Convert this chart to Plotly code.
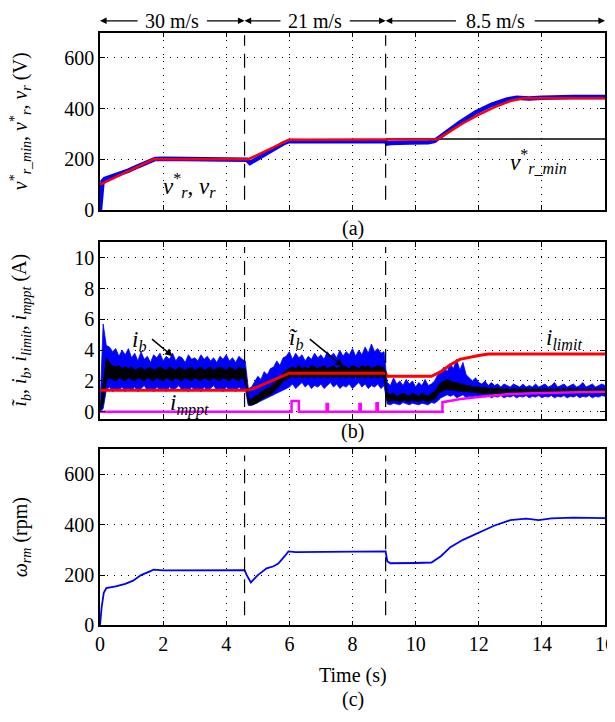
import numpy as np
import plotly.graph_objects as go

# ---------------- data ----------------
segments = ["30 m/s", "21 m/s", "8.5 m/s"]
seg_bounds = [0.0, 4.58, 9.05, 16.0]

# (a) voltages
vr_t = [0, 0.03, 0.08, 0.15, 0.3, 0.6, 0.9, 1.2, 1.5, 1.75, 2.0, 3.0, 4.0, 4.58, 4.65, 4.75, 4.9, 5.2, 5.5, 5.8,
        6.0, 6.5, 7.5, 8.5, 9.05, 9.1, 9.2, 9.8, 10.4, 10.6, 10.9, 11.4, 11.9, 12.4, 12.9, 13.2, 13.6, 14.0, 15.0, 16.0]
vr_v = [0, 60, 112, 122, 128, 140, 155, 172, 190, 201, 202, 201, 202, 201, 198, 185, 197, 218, 240, 262,
        272, 271, 271, 272, 271, 262, 264, 266, 267, 272, 300, 345, 385, 415, 436, 443, 440, 443, 446, 446]
vs_t = [0, 1.7, 4.58, 4.7, 6.0, 10.7, 11.0, 11.5, 12.0, 12.5, 13.0, 13.4, 16.0]
vs_v = [100, 200, 200, 200, 277, 279, 303, 342, 376, 406, 430, 441, 441]
vmin_t = [9.05, 16.0]
vmin_v = [280, 280]

# (b) currents, sampled every 0.1 s
env_t = np.round(np.arange(0, 161) * 0.1, 1)
ib_hi = [0.3, 5.7, 4.3, 4.2, 3.9, 4.1, 3.6, 4.0, 3.7, 4.1,
         3.5, 3.8, 3.3, 3.9, 3.4, 3.6, 3.2, 3.7, 3.5, 3.8,
         3.3, 3.6, 3.4, 3.8, 3.3, 3.6, 3.5, 3.2, 3.7, 3.4,
         3.5, 3.3, 3.7, 3.4, 3.6, 3.3, 3.5, 3.2, 3.6, 3.4,
         3.7, 3.3, 3.5, 3.2, 3.6, 3.4, 3.3, 1.5, 1.6, 2.0,
         2.3, 2.1, 2.6, 2.4, 2.8, 2.9, 3.3, 3.0, 3.5, 3.6,
         3.9, 3.4, 3.8, 3.5, 3.7, 3.3, 3.6, 3.4, 3.8, 3.5,
         3.7, 3.4, 3.9, 3.6, 3.8, 3.5, 4.0, 3.6, 3.9, 3.7,
         4.1, 3.6, 4.0, 3.7, 4.2, 3.8, 4.4, 3.9, 4.1, 3.8,
         3.9, 1.9, 1.7, 2.2, 1.8, 2.0, 1.7, 2.1, 1.8, 2.0,
         1.6, 1.9, 1.7, 2.1, 1.7, 1.8, 2.0, 2.4, 2.6, 2.9,
         2.6, 3.1, 2.8, 3.4, 2.7, 3.2, 2.4, 2.2, 2.0, 2.2,
         1.9, 1.8, 2.0, 1.7, 1.9, 1.7, 1.8, 1.6, 1.8, 1.7,
         1.6, 1.8, 1.7, 1.6, 1.8, 1.6, 1.7, 1.6, 1.8, 1.6,
         1.7, 1.8, 1.6, 1.7, 1.9, 1.6, 1.7, 1.8, 1.6, 1.7,
         1.8, 1.6, 1.7, 1.9, 1.6, 1.7, 1.8, 1.6, 1.7, 1.8,
         1.7]
ib_lo = [0.0, 0.2, 1.4, 1.6, 1.3, 1.5, 1.4, 1.6, 1.3, 1.5,
         1.4, 1.6, 1.3, 1.5, 1.7, 1.4, 1.5, 1.3, 1.6, 1.4,
         1.5, 1.3, 1.6, 1.4, 1.5, 1.7, 1.4, 1.5, 1.3, 1.6,
         1.4, 1.5, 1.3, 1.6, 1.4, 1.5, 1.7, 1.4, 1.5, 1.3,
         1.6, 1.4, 1.5, 1.3, 1.6, 1.4, 1.5, 0.4, 0.4, 0.5,
         0.6, 0.7, 0.8, 0.9, 1.0, 1.1, 1.2, 1.3, 1.4, 1.5,
         1.6, 1.8, 1.5, 1.7, 1.9, 1.6, 1.8, 1.5, 1.7, 1.6,
         1.8, 1.5, 1.7, 1.9, 1.6, 1.8, 1.5, 1.7, 1.6, 1.8,
         1.5, 1.7, 1.9, 1.6, 1.8, 1.5, 1.7, 1.6, 1.8, 1.5,
         1.7, 0.5, 0.45, 0.55, 0.5, 0.45, 0.6, 0.5, 0.45, 0.55,
         0.5, 0.45, 0.55, 0.5, 0.45, 0.6, 0.55, 0.7, 0.9, 1.0,
         1.1, 1.0, 1.1, 0.9, 1.0, 1.1, 0.9, 1.0, 0.95, 1.05,
         0.9, 1.0, 0.95, 1.05, 0.9, 1.0, 0.95, 1.05, 0.9, 1.0,
         0.95, 1.05, 0.9, 1.0, 0.95, 1.05, 0.9, 1.0, 0.95, 1.05,
         0.9, 1.0, 0.95, 1.05, 0.9, 1.0, 0.95, 1.05, 0.9, 1.0,
         0.95, 1.05, 0.9, 1.0, 0.95, 1.05, 0.9, 1.0, 0.95, 1.05,
         1.0]
ibf_hi = [0.1, 2.0, 3.5, 3.2, 3.0, 2.9, 3.0, 2.8, 2.9, 2.8,
          2.9, 2.7, 2.8, 2.9, 2.7, 2.8, 2.9, 2.7, 2.8, 2.9,
          2.8, 2.7, 2.9, 2.8, 2.7, 2.9, 2.8, 2.7, 2.8, 2.9,
          2.7, 2.8, 2.9, 2.7, 2.8, 2.9, 2.7, 2.8, 2.9, 2.8,
          2.7, 2.9, 2.8, 2.7, 2.9, 2.8, 2.8, 0.9, 0.8, 1.0,
          1.1, 1.3, 1.4, 1.5, 1.6, 1.8, 2.0, 2.2, 2.5, 2.7,
          2.8, 2.9, 2.8, 3.0, 2.8, 2.9, 2.8, 3.0, 2.9, 2.8,
          2.9, 3.0, 2.8, 2.9, 3.0, 2.8, 2.9, 3.0, 2.9, 2.8,
          3.0, 2.9, 2.8, 3.0, 2.9, 3.0, 2.8, 2.9, 3.0, 2.9,
          2.9, 1.2, 1.1, 1.2, 1.0, 1.1, 1.2, 1.1, 1.0, 1.2,
          1.1, 1.0, 1.2, 1.1, 1.0, 1.2, 1.3, 1.6, 1.9, 2.0,
          2.1, 2.0, 1.9, 1.9, 1.8, 1.8, 1.7, 1.7, 1.6, 1.6,
          1.6, 1.55, 1.6, 1.5, 1.55, 1.5, 1.55, 1.5, 1.45, 1.5,
          1.45, 1.5, 1.45, 1.5, 1.45, 1.5, 1.45, 1.5, 1.45, 1.5,
          1.45, 1.5, 1.45, 1.5, 1.45, 1.5, 1.45, 1.5, 1.45, 1.5,
          1.45, 1.5, 1.45, 1.5, 1.45, 1.5, 1.45, 1.5, 1.45, 1.5,
          1.45]
ibf_lo = [0.0, 0.5, 2.0, 2.2, 2.1, 2.0, 2.2, 2.1, 2.0, 2.2,
          2.1, 2.0, 2.2, 2.1, 2.0, 2.2, 2.1, 2.0, 2.2, 2.1,
          2.0, 2.2, 2.1, 2.0, 2.2, 2.1, 2.0, 2.2, 2.1, 2.0,
          2.2, 2.1, 2.0, 2.2, 2.1, 2.0, 2.2, 2.1, 2.0, 2.2,
          2.1, 2.0, 2.2, 2.1, 2.0, 2.2, 2.1, 0.5, 0.45, 0.5,
          0.6, 0.8, 0.9, 1.0, 1.1, 1.3, 1.5, 1.7, 2.0, 2.1,
          2.2, 2.3, 2.2, 2.3, 2.2, 2.3, 2.2, 2.3, 2.2, 2.3,
          2.2, 2.3, 2.2, 2.3, 2.2, 2.3, 2.2, 2.3, 2.2, 2.3,
          2.2, 2.3, 2.2, 2.3, 2.2, 2.3, 2.2, 2.3, 2.2, 2.3,
          2.2, 0.7, 0.65, 0.75, 0.7, 0.65, 0.75, 0.7, 0.65, 0.75,
          0.7, 0.65, 0.75, 0.7, 0.65, 0.75, 0.8, 1.1, 1.3, 1.4,
          1.45, 1.4, 1.4, 1.35, 1.35, 1.3, 1.3, 1.3, 1.25, 1.25,
          1.2, 1.15, 1.2, 1.15, 1.2, 1.15, 1.2, 1.15, 1.2, 1.15,
          1.2, 1.15, 1.2, 1.15, 1.2, 1.15, 1.2, 1.15, 1.2, 1.15,
          1.2, 1.15, 1.2, 1.15, 1.2, 1.15, 1.2, 1.15, 1.2, 1.15,
          1.2, 1.15, 1.2, 1.15, 1.2, 1.15, 1.2, 1.15, 1.2, 1.15,
          1.2]
il_t = [0, 4.62, 4.8, 6.0, 9.05, 9.1, 10.5, 10.8, 11.1, 11.4, 12.0, 12.3, 16.0]
il_v = [1.4, 1.4, 1.45, 2.5, 2.5, 2.3, 2.3, 2.6, 3.05, 3.4, 3.65, 3.75, 3.75]
im_t = [0, 6.07, 6.07, 6.3, 6.3, 7.18, 7.18, 7.22, 7.22, 8.22, 8.22, 8.26, 8.26, 8.76, 8.76, 8.8, 8.8,
        10.85, 10.85, 11.5, 12.2, 13.0, 14.0, 15.0, 16.0]
im_v = [0, 0, 0.7, 0.7, 0, 0, 0.5, 0.5, 0, 0, 0.5, 0.5, 0, 0, 0.55, 0.55, 0,
        0, 0.62, 0.85, 1.0, 1.15, 1.22, 1.27, 1.3]

# (c) speed
om_t = [0, 0.05, 0.12, 0.2, 0.5, 0.8, 1.05, 1.3, 1.6, 1.7, 2.0, 3.0, 4.0, 4.58, 4.65, 4.78, 5.0, 5.28, 5.5, 5.65,
        5.85, 5.97, 6.2, 7.0, 8.0, 9.05, 9.1, 9.2, 10.0, 10.5, 10.8, 11.1, 11.5, 12.0, 12.5, 13.0, 13.5, 13.9, 14.3, 15.0, 16.0]
om_v = [0, 70, 130, 148, 155, 165, 178, 200, 216, 222, 219, 219, 220, 220, 200, 171, 200, 227, 235, 246,
        275, 294, 291, 291, 293, 294, 255, 247, 248, 250, 275, 311, 340, 369, 397, 418, 424, 418, 425, 428, 426]

x_ticks = [0, 2, 4, 6, 8, 10, 12, 14, 16]
v_ticks = [0, 200, 400, 600]
i_ticks = [0, 2, 4, 6, 8, 10]

# ---------------- figure ----------------
FONT = '"Liberation Serif", "Times New Roman", Times, serif'
W, H = 615, 722
OFF = 8  # page body margin
BLUE, RED, MAG = "#0000FF", "#FF0000", "#FF00FF"

fig = go.Figure()

# (a)
fig.add_trace(go.Scatter(x=vmin_t, y=vmin_v, mode="lines", line=dict(color="black", width=1.5), xaxis="x", yaxis="y"))
fig.add_trace(go.Scatter(x=vr_t, y=vr_v, mode="lines", line=dict(color=BLUE, width=4.5), xaxis="x", yaxis="y"))
fig.add_trace(go.Scatter(x=vs_t, y=vs_v, mode="lines", line=dict(color=RED, width=2.5), xaxis="x", yaxis="y"))

# (b)
fig.add_trace(go.Scatter(x=env_t, y=ib_lo, mode="lines", line=dict(color=BLUE, width=0.8), xaxis="x2", yaxis="y2"))
fig.add_trace(go.Scatter(x=env_t, y=ib_hi, mode="lines", line=dict(color=BLUE, width=0.8), fill="tonexty",
                         fillcolor=BLUE, xaxis="x2", yaxis="y2"))
fig.add_trace(go.Scatter(x=env_t, y=ibf_lo, mode="lines", line=dict(color="black", width=0.8), xaxis="x2", yaxis="y2"))
fig.add_trace(go.Scatter(x=env_t, y=ibf_hi, mode="lines", line=dict(color="black", width=0.8), fill="tonexty",
                         fillcolor="black", xaxis="x2", yaxis="y2"))
fig.add_trace(go.Scatter(x=il_t, y=il_v, mode="lines", line=dict(color=RED, width=3), xaxis="x2", yaxis="y2"))
fig.add_trace(go.Scatter(x=im_t, y=im_v, mode="lines", line=dict(color=MAG, width=2.5), xaxis="x2", yaxis="y2"))

# (c)
fig.add_trace(go.Scatter(x=om_t, y=om_v, mode="lines", line=dict(color=BLUE, width=1.8), xaxis="x3", yaxis="y3"))


def py(px):
    """screen pixel row -> paper coordinate"""
    return 1 - (px - OFF) / H


def pxx(px):
    """screen pixel column -> paper x coordinate"""
    return (px - 100) / 505


doms = {"y": (py(213), py(33)), "y2": (py(425), py(246)), "y3": (py(635), py(456))}

axis_common = dict(
    showline=True, linecolor="black", linewidth=1.5, mirror="ticks",
    ticks="inside", ticklen=5, tickwidth=1, tickcolor="black",
    showgrid=True, gridcolor="black", gridwidth=1, griddash="1px,6px",
    zeroline=False, tickfont=dict(family=FONT, size=20, color="black"),
)

layout = dict(
    width=W, height=H, showlegend=False,
    plot_bgcolor="white", paper_bgcolor="white",
    margin=dict(l=100 - OFF, r=W - (605 - OFF), t=0, b=0),
    font=dict(family=FONT, color="black"),
)
for i, (xa, ya) in enumerate([("xaxis", "yaxis"), ("xaxis2", "yaxis2"), ("xaxis3", "yaxis3")]):
    yk = "y" if i == 0 else f"y{i+1}"
    layout[xa] = dict(axis_common, range=[0, 16], tickvals=x_ticks, anchor=yk,
                      showticklabels=(i == 2), domain=[0, 1])
    if i == 1:
        layout[ya] = dict(axis_common, range=[-0.45, 11], tickvals=i_ticks, anchor="x2", domain=list(doms[yk]))
    else:
        layout[ya] = dict(axis_common, range=[0, 700], tickvals=v_ticks,
                          anchor=("x" if i == 0 else "x3"), domain=list(doms[yk]))
fig.update_layout(**layout)

# dashed segment separators
for xb in seg_bounds[1:3]:
    fig.add_shape(type="line", xref="x", yref="y", x0=xb, x1=xb, y0=40, y1=690,
                  line=dict(color="black", width=1.2, dash="14px,8px"))
    fig.add_shape(type="line", xref="x2", yref="y2", x0=xb, x1=xb, y0=0.3, y1=10.7,
                  line=dict(color="black", width=1.2, dash="14px,8px"))
    fig.add_shape(type="line", xref="x3", yref="y3", x0=xb, x1=xb, y0=40, y1=675,
                  line=dict(color="black", width=1.2, dash="14px,8px"))

ann = []
# header arrows and wind-speed labels
hy = py(21)
half_w = [1.05, 1.05, 1.2]
for k, lab in enumerate(segments):
    a, b = seg_bounds[k], seg_bounds[k + 1]
    c = (a + b) / 2
    ann.append(dict(x=c, y=hy, xref="x", yref="paper", text=lab, showarrow=False,
                    xanchor="center", yanchor="middle",
                    font=dict(family=FONT, size=20, color="black")))
    for tgt, tail in ((a, c - half_w[k]), (b, c + half_w[k])):
        ann.append(dict(x=tgt, y=hy, xref="x", yref="paper", ax=tail, ay=0, axref="x", ayref="pixel",
                        text="", showarrow=True, arrowhead=2, arrowsize=1.1, arrowwidth=1.2,
                        arrowcolor="black", standoff=0, startstandoff=0))

# y-axis titles
ytitles = [
    ("<i>v</i><sup>*</sup><sub><i>r</i>_<i>min</i></sub>, <i>v</i><sup>*</sup><sub><i>r</i></sub>, <i>v<sub>r</sub></i> (V)", (33 + 213) / 2),
    ("<i>ĩ<sub>b</sub></i>, <i>i<sub>b</sub></i>, <i>i<sub>limit</sub></i>, <i>i<sub>mppt</sub></i> (A)", (246 + 425) / 2),
    ("<i>ω<sub>rm</sub></i> (rpm)", (456 + 635) / 2),
]
for txt, yc in ytitles:
    ann.append(dict(x=pxx(21), y=py(yc), xref="paper", yref="paper", text=txt, textangle=-90,
                    showarrow=False, xanchor="center", yanchor="middle",
                    font=dict(family=FONT, size=20, color="black")))

# captions
for txt, ypx in (("(a)", 232), ("(b)", 438), ("Time (s)", 686), ("(c)", 710)):
    ann.append(dict(x=0.5, y=py(ypx), xref="paper", yref="paper", text=txt, showarrow=False,
                    xanchor="center", yanchor="middle",
                    font=dict(family=FONT, size=20, color="black")))

# in-plot labels
lab_font = dict(family=FONT, size=23, color="black")
ann.append(dict(x=2.85, y=95, xref="x", yref="y", text="<i>v</i><sup>*</sup><sub><i>r</i></sub>, <i>v<sub>r</sub></i>",
                showarrow=False, font=lab_font))
ann.append(dict(x=13.9, y=190, xref="x", yref="y", text="<i>v</i><sup>*</sup><sub><i>r</i>_<i>min</i></sub>",
                showarrow=False, font=lab_font))
ann.append(dict(x=1.25, y=4.6, xref="x2", yref="y2", text="<i>i<sub>b</sub></i>",
                showarrow=False, font=lab_font))
ann.append(dict(x=2.3, y=3.6, xref="x2", yref="y2", ax=1.6, ay=4.8, axref="x2", ayref="y2", text="",
                showarrow=True, arrowhead=2, arrowsize=1, arrowwidth=1.5, arrowcolor="black"))
ann.append(dict(x=6.2, y=4.7, xref="x2", yref="y2", text="<i>ĩ<sub>b</sub></i>",
                showarrow=False, font=lab_font))
ann.append(dict(x=7.7, y=2.95, xref="x2", yref="y2", ax=6.6, ay=4.8, axref="x2", ayref="y2", text="",
                showarrow=True, arrowhead=2, arrowsize=1, arrowwidth=1.5, arrowcolor="black"))
ann.append(dict(x=14.7, y=4.7, xref="x2", yref="y2", text="<i>i<sub>limit</sub></i>",
                showarrow=False, font=lab_font))
ann.append(dict(x=2.85, y=0.45, xref="x2", yref="y2", text="<i>i<sub>mppt</sub></i>",
                showarrow=False, font=lab_font))

fig.update_layout(annotations=ann)
fig.write_html("out.html")
